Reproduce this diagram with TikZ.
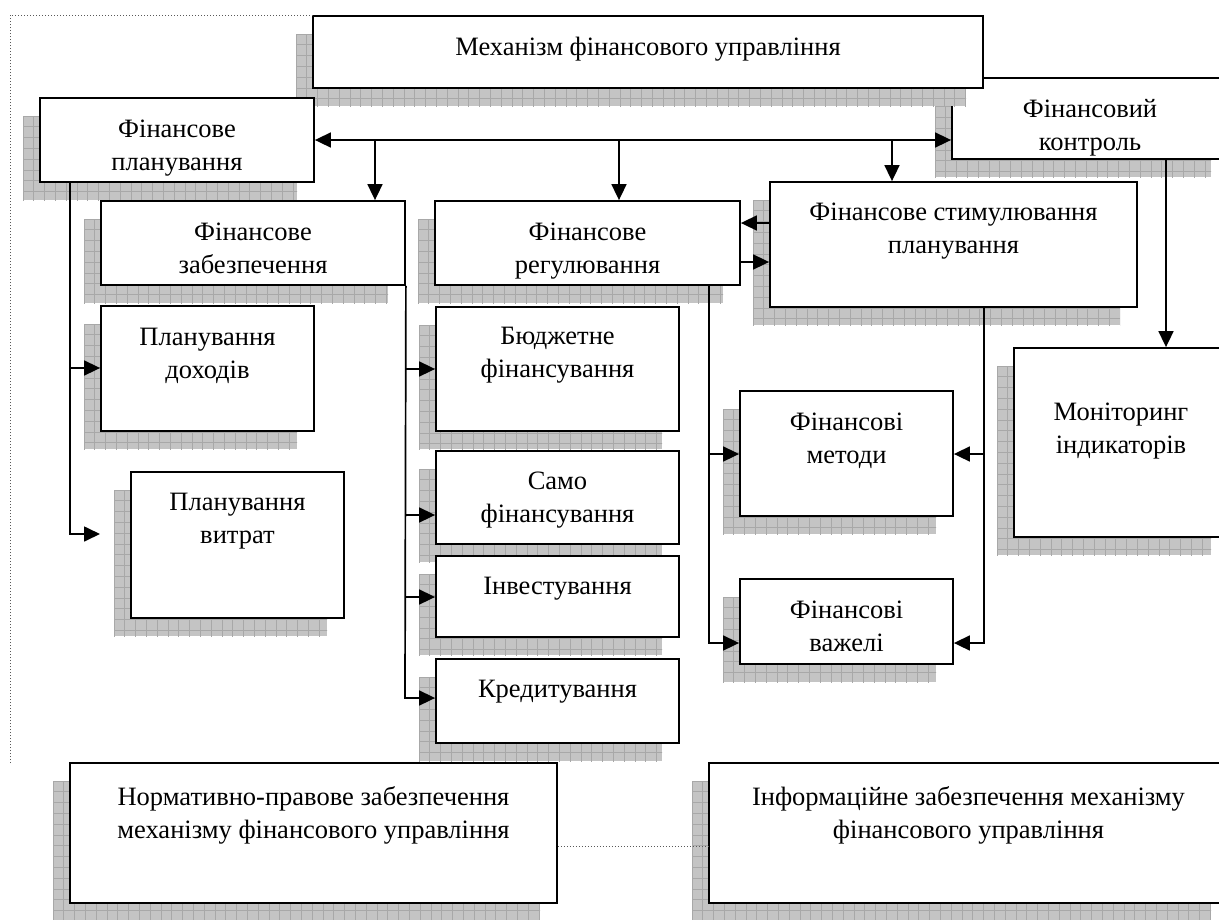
\documentclass[tikz,border=0pt]{standalone}
\usepackage{fontspec}
\setmainfont{Liberation Serif}
\usetikzlibrary{arrows.meta}
\newcommand\mytl[1]{\begin{tabular}[t]{@{}c@{}}#1\end{tabular}}
\tikzset{
  shfill/.style={fill=gray!46},
  shgrid/.style={draw=gray!68, line width=0.8pt, step=10.8pt},
  boxst/.style={draw=black, fill=white, line width=1.8pt, inner sep=0pt, rectangle},
  txt/.style={anchor=base, inner sep=0pt, font=\fontsize{26.5}{33}\selectfont},
  ln/.style={line width=1.7pt},
  arr/.style={line width=1.7pt, -{Triangle[length=16pt,width=15pt]}},
  arrs/.style={line width=1.7pt, {Triangle[length=16pt,width=15pt]}-{Triangle[length=16pt,width=15pt]}},
  dotln/.style={line width=1pt, dotted, draw=gray!70!black},
}
% name, x1, y1, x2, y2, first-baseline offset, text
\newcommand\shbox[7]{%
  \fill[shfill] ({#2-17},{#3+18}) rectangle ({#4-17},{#5+18});
  \begin{scope}
    \clip ({#2-17},{#3+18}) rectangle ({#4-17},{#5+18});
    \draw[shgrid, shift={({#2-17},{#3+18})}] (0,{#5-#3+11}) grid ({#4-#2+11},0);
  \end{scope}
  \node[boxst, minimum width={#4-#2}, minimum height={#5-#3}] (#1) at ({(#2+#4)/2},{(#3+#5)/2}) {};
  \node[txt] (#1-t) at ({(#2+#4)/2},{#3+#6}) {\mytl{#7}};
}
\begin{document}
\begin{tikzpicture}[x=1pt,y=-1pt]
\clip (0,0) rectangle (1219,919);
\fill[white] (0,0) rectangle (1219,919);

\shbox{kont}{952}{78}{1228}{159}{39}{Фінансовий\\контроль}
\shbox{main}{313}{16}{983}{88}{39}{Механізм фінансового управління}
\shbox{plan}{40}{98}{314}{182}{39}{Фінансове\\планування}
\shbox{zab}{101}{201}{405}{285}{39}{Фінансове\\забезпечення}
\shbox{reg}{435}{201}{740}{285}{39}{Фінансове\\регулювання}
\shbox{stim}{770}{182}{1137}{307}{38}{Фінансове стимулювання\\планування}
\shbox{doh}{101}{306}{314}{431}{39}{Планування\\доходів}
\shbox{vyt}{131}{472}{344}{618}{38}{Планування\\витрат}
\shbox{bud}{436}{307}{679}{431}{37}{Бюджетне\\фінансування}
\shbox{samo}{436}{451}{679}{544}{38}{Само\\фінансування}
\shbox{inv}{436}{556}{679}{637}{38}{Інвестування}
\shbox{kred}{436}{659}{679}{743}{38}{Кредитування}
\shbox{met}{740}{391}{953}{516}{39}{Фінансові\\методи}
\shbox{vaz}{740}{579}{953}{664}{39}{Фінансові\\важелі}
\shbox{mon}{1014}{348}{1228}{537}{72}{Моніторинг\\індикаторів}
\shbox{norm}{70}{763}{557}{903}{42}{Нормативно-правове забезпечення\\механізму фінансового управління}
\shbox{inf}{709}{763}{1228}{903}{42}{Інформаційне забезпечення механізму\\фінансового управління}

% dotted frame
\coordinate (b0) at (10,763);
\coordinate (b1) at (10,15);
\draw[dotln] (b0) -- (b1) -- (b1 -| main.west);

% top distribution line
\draw[arrs] (plan.east) -- (plan.east -| kont.west);
\coordinate (hA) at (375,140);
\coordinate (hB) at (619,140);
\coordinate (hC) at (892,140);
\draw[arr] (hA) -- (hA |- zab.north);
\draw[arr] (hB) -- (hB |- reg.north);
\draw[arr] (hC) -- (hC |- stim.north);

% planning branch
\coordinate (pl0) at (70,182);
\coordinate (pl1) at (70,368);
\coordinate (vE) at (100,534);
\draw[arr] (pl0) |- (vE);
\draw[arr] (pl1) -- (pl1 -| doh.west);

% provision branch
\coordinate (z1) at (405,369);
\coordinate (z2) at (405,515);
\coordinate (z3) at (405,597);
\coordinate (z4) at (405,698);
\draw[arr] (zab.south east) -- (z4) -- (z4 -| kred.west);
\draw[arr] (z1) -- (z1 -| bud.west);
\draw[arr] (z2) -- (z2 -| samo.west);
\draw[arr] (z3) -- (z3 -| inv.west);

% regulation branch
\coordinate (r0) at (709,285);
\coordinate (r1) at (709,454);
\coordinate (r2) at (709,643);
\draw[arr] (r0) -- (r2) -- (r2 -| vaz.west);
\draw[arr] (r1) -- (r1 -| met.west);

% stimulation branch
\coordinate (s0) at (984,307);
\coordinate (s1) at (984,454);
\coordinate (s2) at (984,643);
\draw[arr] (s0) -- (s2) -- (s2 -| vaz.east);
\draw[arr] (s1) -- (s1 -| met.east);

% regulation <-> stimulation
\coordinate (g1) at (770,223);
\coordinate (g2) at (740,262);
\draw[arr] (g1 -| stim.west) -- (g1 -| reg.east);
\draw[arr] (g2 -| reg.east) -- (g2 -| stim.west);

% control -> monitoring
\coordinate (k0) at (1166,159);
\draw[arr] (k0) -- (k0 |- mon.north);

% dotted link bottom
\coordinate (d0) at (600,846);
\draw[dotln] (d0 -| norm.east) -- (d0 -| inf.west);
\end{tikzpicture}
\end{document}
